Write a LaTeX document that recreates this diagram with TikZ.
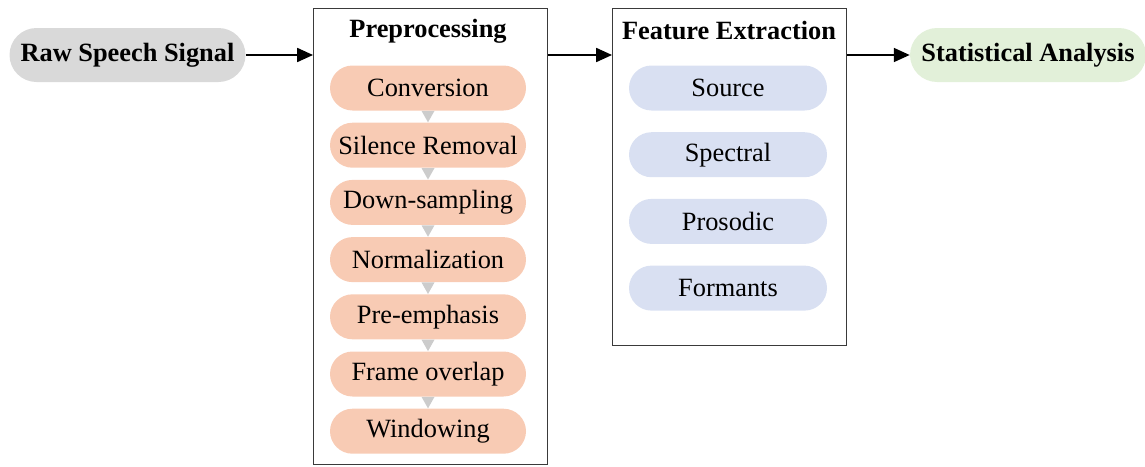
\documentclass[tikz,border=0pt]{standalone}
\usepackage{fontspec}
\setmainfont{Liberation Serif}
\usepackage{xcolor}
\usepackage{tikz}
\usetikzlibrary{arrows.meta, positioning, calc}
\definecolor{rawgray}{HTML}{D9D9D9}
\definecolor{prepink}{HTML}{F8CBB4}
\definecolor{featblue}{HTML}{D9E0F2}
\definecolor{statgreen}{HTML}{E2F0D9}
\definecolor{framegray}{HTML}{3A3A3A}
\tikzset{
    pill/.style={rectangle, rounded corners=0.45cm, minimum height=0.9cm, inner sep=0pt, align=center},
    arrow/.style={line width=0.8pt, -{Triangle[length=9pt, width=8pt]}}
}

\begin{document}
\begin{tikzpicture}[
        font=\fontsize{15}{18}\selectfont,
        % Define styles
        endpill/.style={pill, rounded corners=0.54cm, minimum width=4.72cm, minimum height=1.08cm, font=\fontsize{15}{18}\selectfont\bfseries},
        prestep/.style={pill, fill=prepink, minimum width=3.92cm},
        featstep/.style={pill, fill=featblue, minimum width=3.96cm},
        frame/.style={draw=framegray, line width=0.8pt, anchor=north west, minimum width=4.68cm, inner sep=0pt},
        heading/.style={font=\fontsize{15}{18}\selectfont\bfseries},
        link/.style={fill=gray!40}
    ]
        \useasboundingbox (0,1.1) rectangle (22.9,-8.22);

        % --- Input ---
        \node (raw) [endpill, fill=rawgray] at (2.55,0) {Raw Speech Signal};

        % --- Preprocessing stage ---
        \node (prebox) [frame, minimum height=9.12cm] at (6.26,0.94) {};
        \node (pretitle) [heading] at (8.56,0.48) {Preprocessing};
        \node (conv) [prestep] at (8.56,-0.66) {Conversion};
        \node (sil) [prestep, below=0.23cm of conv] {Silence Removal};
        \node (down) [prestep, below=0.23cm of sil] {Down-sampling};
        \node (norm) [prestep, below=0.23cm of down] {Normalization};
        \node (emph) [prestep, below=0.23cm of norm] {Pre-emphasis};
        \node (overlap) [prestep, below=0.23cm of emph] {Frame overlap};
        \node (wind) [prestep, below=0.23cm of overlap] {Windowing};

        % small wedges between the steps
        \foreach \a/\b in {conv/sil, sil/down, down/norm, norm/emph, emph/overlap, overlap/wind}
            \fill [link] ($(\a.south)+(-0.13,0)$) -- ($(\a.south)+(0.13,0)$) -- (\b.north) -- cycle;

        % --- Feature extraction stage ---
        \node (featbox) [frame, minimum height=6.74cm] at (12.24,0.94) {};
        \node (feattitle) [heading] at (14.58,0.48) {Feature Extraction};
        \node (source) [featstep] at (14.56,-0.66) {Source};
        \node (spectral) [featstep, below=0.42cm of source] {Spectral};
        \node (prosodic) [featstep, below=0.42cm of spectral] {Prosodic};
        \node (formants) [featstep, below=0.42cm of prosodic] {Formants};

        % --- Output ---
        \node (stat) [endpill, fill=statgreen] at (20.56,0) {Statistical Analysis};

        % Connections
        \draw [arrow] (raw.east) -- (prebox.west |- raw.east);
        \draw [arrow] (prebox.east |- raw.east) -- (featbox.west |- raw.east);
        \draw [arrow] (featbox.east |- stat.west) -- (stat.west);

\end{tikzpicture}
\end{document}
